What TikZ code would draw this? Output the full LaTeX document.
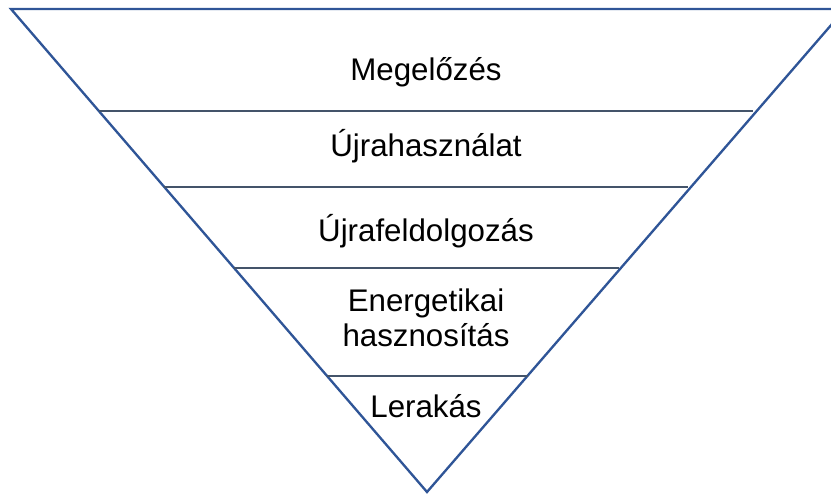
\documentclass[tikz,border=0pt]{standalone}
\usepackage{fontspec}
\setmainfont{Liberation Sans}
\usepackage{tikz}
\definecolor{edgeblue}{HTML}{2F5597}
\definecolor{levelgray}{HTML}{44546A}
\tikzstyle{edge} = [draw=edgeblue, line width=2pt, line join=miter]
\tikzstyle{level} = [draw=levelgray, line width=2pt]
\tikzstyle{label} = [text centered, align=center, font=\fontsize{26.7}{30}\selectfont, inner sep=0pt]

\begin{document}
\begin{tikzpicture}[x=0.03cm, y=-0.03cm]
\useasboundingbox (0,0) rectangle (831,495);
\clip (0,0) rectangle (831,495);

\coordinate (tl) at (11,9);
\coordinate (tr) at (845,9);
\coordinate (apex) at (427,492);

\draw [edge] (tl) -- (tr) -- (apex) -- cycle;

% level lines
\draw [level] (99,111) -- (753,111);
\draw [level] (164,187) -- (688,187);
\draw [level] (234,268) -- (619,268);
\draw [level] (327,376) -- (528,376);

\node (prevent) [label] at (426,72) {Megelőzés};
\node (reuse) [label] at (426,146) {Újrahasználat};
\node (recycle) [label] at (426,231) {Újrafeldolgozás};
\node (energy) [label] at (426,318) {Energetikai\\hasznosítás};
\node (landfill) [label] at (426,406) {Lerakás};

\end{tikzpicture}
\end{document}
